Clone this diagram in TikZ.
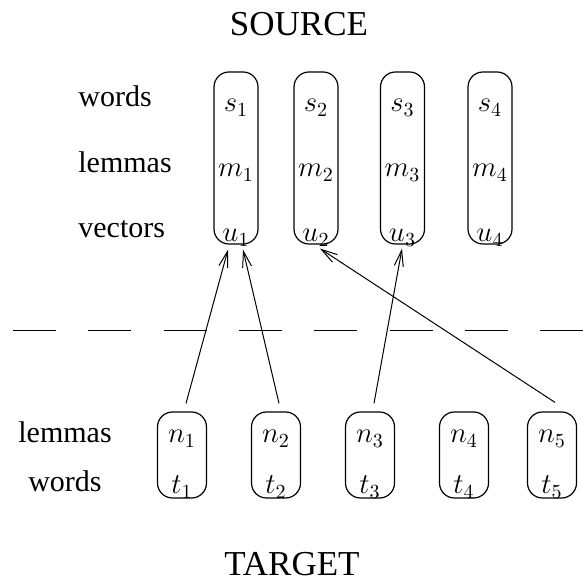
\documentclass[tikz,border=0pt]{standalone}
\usepackage[no-math]{fontspec}
\setmainfont{Liberation Serif}
\usetikzlibrary{arrows.meta}
\begin{document}
\begin{tikzpicture}[x=0.5pt,y=-0.5pt,
  lbl/.style={font=\fontsize{15}{18}\selectfont, inner sep=0pt, anchor=base west},
  lblc/.style={font=\fontsize{15}{18}\selectfont, inner sep=0pt, anchor=base},
  ttl/.style={font=\fontsize{17.5}{21}\selectfont, inner sep=0pt, anchor=base},
  sym/.style={font=\fontsize{14.4}{17}\selectfont, inner sep=0pt, anchor=base},
  colbox/.style={draw, line width=0.6pt, rounded corners=7.5pt, inner sep=0pt},
  srcbox/.style={colbox, minimum width=22pt, minimum height=86pt},
  tgtbox/.style={colbox, minimum width=24.5pt, minimum height=43pt},
  link/.style={line width=0.5pt, -{Straight Barb[length=8pt,width=4.5pt,line width=0.5pt]}},
  sepline/.style={line width=0.5pt, dash pattern=on 21.5pt off 16.15pt}]
\useasboundingbox (0,0) rectangle (583,581);

% titles
\node[ttl] (src) at (299,36) {SOURCE};
\node[ttl] (tgt) at (292,575) {TARGET};

% source row labels
\node[lbl] (lw) at (78,107) {words};
\node[lbl] (ll) at (78,173) {lemmas};
\node[lbl] (lv) at (78,238) {vectors};

% source boxes
\node[srcbox] (tb1) at (236,158) {};
\node[srcbox] (tb2) at (316,158) {};
\node[srcbox] (tb3) at (402.5,158) {};
\node[srcbox] (tb4) at (490,158) {};

\foreach \i/\x in {1/236,2/316,3/402.5,4/490}{
  \node[sym] (s\i) at (\x,112) {$s_\i$};
  \node[sym] (m\i) at (\x,177) {$m_\i$};
  \node[sym] (u\i) at (\x,242) {$u_\i$};
}

% separator
\coordinate (sepL) at (13,331);
\coordinate (sepR) at (583,331);
\draw[sepline] (sepL) -- (sepR);

% target row labels
\node[lblc] (bl) at (65,443) {lemmas};
\node[lblc] (bw) at (65,492) {words};

% target boxes
\foreach \i/\x in {1/182,2/276,3/370,4/464,5/552}{
  \node[tgtbox] (nb\i) at (\x,455) {};
  \node[sym] (n\i) at (\x,443) {$n_\i$};
  \node[sym] (t\i) at (\x,494) {$t_\i$};
}

% alignment links
\draw[link] ([xshift=2pt,yshift=4pt]nb1.north) -- ([xshift=-4pt,yshift=-2.5pt]tb1.south);
\draw[link] ([xshift=1.5pt,yshift=4pt]nb2.north) -- ([xshift=3.5pt,yshift=-2.5pt]tb1.south);
\draw[link] ([xshift=2pt,yshift=4pt]nb3.north) -- ([xshift=-0.25pt,yshift=-2pt]tb3.south);
\draw[link] ([xshift=1.5pt,yshift=4.5pt]nb5.north) -- ([xshift=2pt,yshift=-2pt]tb2.south);
\end{tikzpicture}
\end{document}
